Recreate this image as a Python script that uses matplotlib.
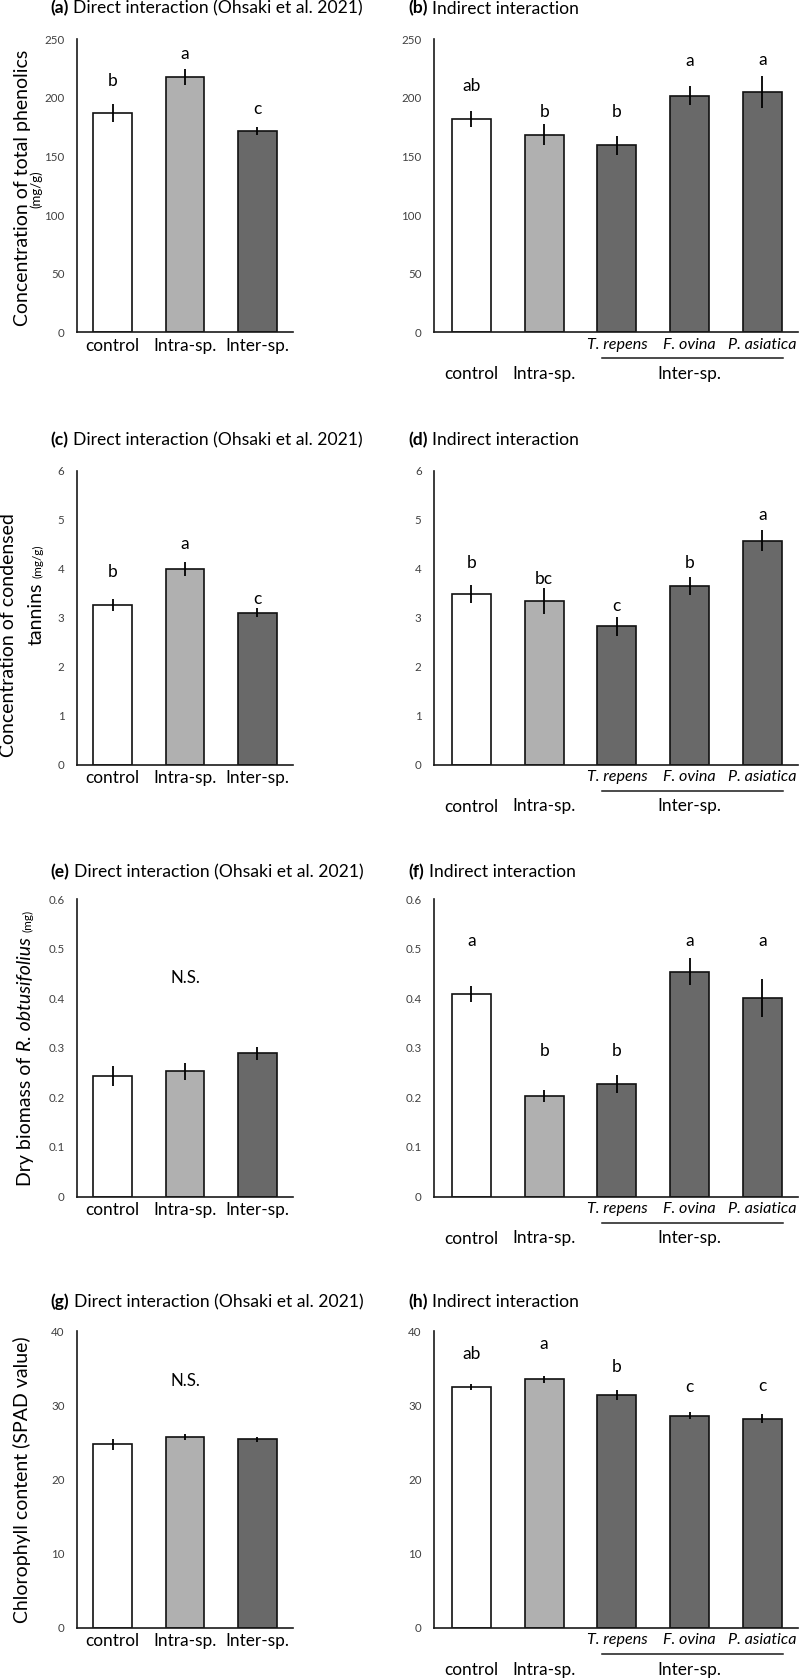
import matplotlib
matplotlib.use("Agg")
import matplotlib.pyplot as plt
from matplotlib.transforms import offset_copy

plt.rcParams["font.family"] = ["Lato", "DejaVu Sans"]

# ---- data ----
direct_groups = ["control", "Intra-sp.", "Inter-sp."]
indirect_groups = ["control", "Intra-sp."]
indirect_species = ["T. repens", "F. ovina", "P. asiatica"]

phenolics_direct = [186.9, 217.8, 171.8]
phenolics_direct_err = [7.6, 7.2, 3.6]
phenolics_direct_letters = ["b", "a", "c"]
phenolics_direct_letter_y = [214.4, 237.8, 190.3]

phenolics_indirect = [182.0, 168.6, 159.5, 201.9, 205.3]
phenolics_indirect_err = [6.8, 8.8, 8.2, 8.2, 13.5]
phenolics_indirect_letters = ["ab", "b", "b", "a", "a"]
phenolics_indirect_letter_y = [209.9, 188.0, 188.0, 231.2, 232.7]

tannins_direct = [3.25, 3.99, 3.10]
tannins_direct_err = [0.12, 0.15, 0.09]
tannins_direct_letters = ["b", "a", "c"]
tannins_direct_letter_y = [3.93, 4.50, 3.37]

tannins_indirect = [3.48, 3.34, 2.82, 3.65, 4.57]
tannins_indirect_err = [0.19, 0.27, 0.20, 0.18, 0.21]
tannins_indirect_letters = ["b", "bc", "c", "b", "a"]
tannins_indirect_letter_y = [4.12, 3.78, 3.23, 4.12, 5.10]

biomass_direct = [0.244, 0.253, 0.289]
biomass_direct_err = [0.020, 0.017, 0.013]
biomass_direct_ns_y = 0.442

biomass_indirect = [0.408, 0.203, 0.227, 0.454, 0.401]
biomass_indirect_err = [0.016, 0.013, 0.018, 0.028, 0.038]
biomass_indirect_letters = ["a", "b", "b", "a", "a"]
biomass_indirect_letter_y = [0.516, 0.294, 0.294, 0.516, 0.516]

spad_direct = [24.7, 25.7, 25.4]
spad_direct_err = [0.75, 0.40, 0.35]
spad_direct_ns_y = 33.2

spad_indirect = [32.5, 33.5, 31.4, 28.6, 28.2]
spad_indirect_err = [0.40, 0.50, 0.65, 0.45, 0.65]
spad_indirect_letters = ["ab", "a", "b", "c", "c"]
spad_indirect_letter_y = [36.9, 38.2, 35.1, 32.4, 32.6]

phenolics_ticks = [0, 50, 100, 150, 200, 250]
tannins_ticks = [0, 1, 2, 3, 4, 5, 6]
biomass_ticks = [0, 0.1, 0.2, 0.3, 0.4, 0.5, 0.6]
biomass_tick_labels = ["0", "0.1", "0.2", "0.3", "0.4", "0.5", "0.6"]
spad_ticks = [0, 10, 20, 30, 40]

# ---- figure layout (pixels) ----
W, H = 800, 1679
fig = plt.figure(figsize=(W / 100, H / 100), dpi=100)
renderer = fig.canvas.get_renderer()

LEFT_X = (77, 293)
RIGHT_X = (434, 798)
ROWS = [(39.3, 332.3), (470.7, 764.5), (899.3, 1196.5), (1331.0, 1627.7)]
TITLE_BASE = [13.5, 445, 877, 1307]

WHITE, LIGHT, DARK = "white", "#b0b0b0", "#696969"
TICK_COLOR = "#404040"
TITLE_SIZE = 12.6
LABEL_SIZE = 12.4
LETTER_SIZE = 12.5
YLABEL_SIZE = 14


def make_axes(xr, row):
    top, bottom = row
    return fig.add_axes([xr[0] / W, 1 - bottom / H, (xr[1] - xr[0]) / W, (bottom - top) / H])


def put_runs(x, y, parts, rotation=0, gap=4, center=False):
    # pieces of text one after another (pixel coords, y from top)
    texts = []
    pos = 0
    for txt, kw in parts:
        if rotation == 0:
            xx, yy = x + pos, y
        else:
            xx, yy = x, y - pos
        t = fig.text(xx / W, 1 - yy / H, txt, rotation=rotation, rotation_mode="anchor",
                     ha="left", va="baseline", **kw)
        bb = t.get_window_extent(renderer)
        pos += (bb.width if rotation == 0 else bb.height) + gap
        texts.append(t)
    total = pos - gap
    if center:
        for t in texts:
            px, py = t.get_position()
            if rotation == 0:
                t.set_position((px - total / 2 / W, py))
            else:
                t.set_position((px, py - total / 2 / H))
    return texts


def style_axes(ax, ticks, tick_labels, ymax, nbars):
    for side in ["top", "right"]:
        ax.spines[side].set_visible(False)
    for side in ["left", "bottom"]:
        ax.spines[side].set_linewidth(1.2)
        ax.spines[side].set_color("#1a1a1a")
    ax.set_ylim(0, ymax)
    ax.set_yticks(ticks, tick_labels if tick_labels else [str(t) for t in ticks])
    ax.tick_params(axis="y", length=0, pad=9, labelsize=8.3, labelcolor=TICK_COLOR)
    ax.tick_params(axis="x", length=0, pad=4)
    if nbars == 3:
        ax.set_xlim(-0.49, 2.49)
    else:
        ax.set_xlim(-0.515, 4.49)


def draw_bars(ax, vals, errs, colors, width):
    x = list(range(len(vals)))
    ax.bar(x, vals, width=width, color=colors, edgecolor="#111111", linewidth=1.2, zorder=2)
    ax.errorbar(x, vals, yerr=errs, fmt="none", ecolor="black", elinewidth=1.3, capsize=0, zorder=3)


def draw_letters(ax, letters, ys):
    for i, (lab, yy) in enumerate(zip(letters, ys)):
        ax.text(i, yy, lab, ha="center", va="center", fontsize=LETTER_SIZE, color="black")


def direct_panel(row, vals, errs, ticks, ymax, tick_labels=None):
    ax = make_axes(LEFT_X, ROWS[row])
    draw_bars(ax, vals, errs, [WHITE, LIGHT, DARK], 0.53)
    style_axes(ax, ticks, tick_labels, ymax, 3)
    ax.set_xticks(range(3), direct_groups, fontsize=LABEL_SIZE, color="black")
    return ax


def indirect_panel(row, vals, errs, ticks, ymax, tick_labels=None):
    ax = make_axes(RIGHT_X, ROWS[row])
    draw_bars(ax, vals, errs, [WHITE, LIGHT, DARK, DARK, DARK], 0.536)
    style_axes(ax, ticks, tick_labels, ymax, 5)
    ax.set_xticks(range(5), ["", ""] + indirect_species, fontsize=11.6, fontstyle="italic", color="black")
    lower = offset_copy(ax.get_xaxis_transform(), fig=fig, y=-42, units="dots")
    for i, lab in enumerate(indirect_groups):
        ax.text(i, 0, lab, transform=lower, ha="center", va="center", fontsize=LABEL_SIZE)
    ax.text(3, 0, "Inter-sp.", transform=lower, ha="center", va="center", fontsize=LABEL_SIZE)
    bar_line = offset_copy(ax.get_xaxis_transform(), fig=fig, y=-26, units="dots")
    ax.plot([1.79, 4.28], [0, 0], transform=bar_line, color="#1a1a1a", lw=1.1, clip_on=False)
    return ax


def titles(row, letter_left, letter_right):
    base = TITLE_BASE[row]
    put_runs(50, base, [(letter_left, dict(fontsize=TITLE_SIZE, fontweight="bold")),
                        ("Direct interaction (Ohsaki et al. 2021)", dict(fontsize=TITLE_SIZE))], gap=5)
    put_runs(408, base, [(letter_right, dict(fontsize=TITLE_SIZE, fontweight="bold")),
                         ("Indirect interaction", dict(fontsize=TITLE_SIZE))], gap=5)


# row 1: total phenolics
ax_a = direct_panel(0, phenolics_direct, phenolics_direct_err, phenolics_ticks, 250)
draw_letters(ax_a, phenolics_direct_letters, phenolics_direct_letter_y)
ax_b = indirect_panel(0, phenolics_indirect, phenolics_indirect_err, phenolics_ticks, 250)
draw_letters(ax_b, phenolics_indirect_letters, phenolics_indirect_letter_y)
titles(0, "(a)", "(b)")
put_runs(28, 187.5, [("Concentration of total phenolics", dict(fontsize=YLABEL_SIZE))], rotation=90, center=True)
put_runs(40, 189, [("(mg/g)", dict(fontsize=9.5))], rotation=90, center=True)

# row 2: condensed tannins
ax_c = direct_panel(1, tannins_direct, tannins_direct_err, tannins_ticks, 6)
draw_letters(ax_c, tannins_direct_letters, tannins_direct_letter_y)
ax_d = indirect_panel(1, tannins_indirect, tannins_indirect_err, tannins_ticks, 6)
draw_letters(ax_d, tannins_indirect_letters, tannins_indirect_letter_y)
titles(1, "(c)", "(d)")
put_runs(14, 635, [("Concentration of condensed", dict(fontsize=YLABEL_SIZE))], rotation=90, center=True)
put_runs(42, 595, [("tannins", dict(fontsize=YLABEL_SIZE)), ("(mg/g)", dict(fontsize=8.5))],
         rotation=90, gap=5, center=True)

# row 3: dry biomass
ax_e = direct_panel(2, biomass_direct, biomass_direct_err, biomass_ticks, 0.6, biomass_tick_labels)
ax_e.text(1, biomass_direct_ns_y, "N.S.", ha="center", va="center", fontsize=12.2)
ax_f = indirect_panel(2, biomass_indirect, biomass_indirect_err, biomass_ticks, 0.6, biomass_tick_labels)
draw_letters(ax_f, biomass_indirect_letters, biomass_indirect_letter_y)
titles(2, "(e)", "(f)")
put_runs(31, 1048, [("Dry biomass of", dict(fontsize=YLABEL_SIZE)),
                    ("R. obtusifolius", dict(fontsize=YLABEL_SIZE, fontstyle="italic")),
                    ("(mg)", dict(fontsize=8.5))], rotation=90, gap=5, center=True)

# row 4: chlorophyll
ax_g = direct_panel(3, spad_direct, spad_direct_err, spad_ticks, 40)
ax_g.text(1, spad_direct_ns_y, "N.S.", ha="center", va="center", fontsize=12.2)
ax_h = indirect_panel(3, spad_indirect, spad_indirect_err, spad_ticks, 40)
draw_letters(ax_h, spad_indirect_letters, spad_indirect_letter_y)
titles(3, "(g)", "(h)")
put_runs(28, 1480, [("Chlorophyll content (SPAD value)", dict(fontsize=YLABEL_SIZE))], rotation=90, center=True)

fig.savefig("out.png", dpi=100)
